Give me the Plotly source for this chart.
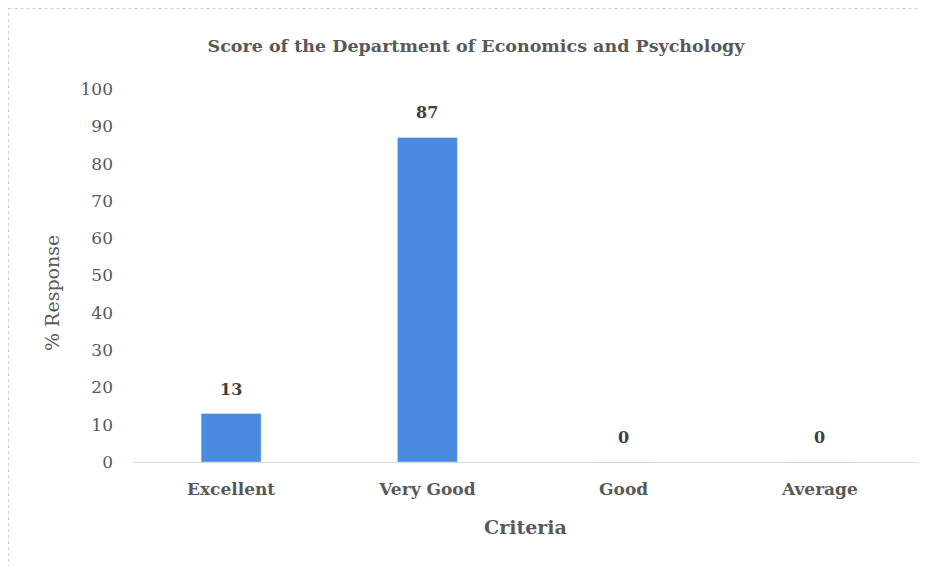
import plotly.graph_objects as go

categories = ["Excellent", "Very Good", "Good", "Average"]
values = [13, 87, 0, 0]
y_ticks = list(range(0, 101, 10))

font_family = "DejaVu Serif, Liberation Serif, serif"
gray = "#595959"

fig = go.Figure(go.Bar(
    x=categories, y=values,
    marker=dict(color="#4a8ae0"),
    width=0.306,
    cliponaxis=False,
))

for c, v in zip(categories, values):
    fig.add_annotation(x=c, y=v, xref="x", yref="y", text=f"<b>{v}</b>",
                       showarrow=False, yanchor="bottom", yshift=13,
                       font=dict(family=font_family, size=16, color="#404040"))

W, H = 785, 373
# y-axis title placed as rotated annotation (slightly below axis centre, as in reference)
fig.add_annotation(x=(44 - 125) / W, y=(454 - 285) / H, xref="paper", yref="paper",
                   text="% Response", textangle=-90, showarrow=False,
                   xanchor="center", yanchor="middle",
                   font=dict(family=font_family, size=19, color=gray))

fig.update_layout(
    width=928, height=566,
    paper_bgcolor="white", plot_bgcolor="white",
    margin=dict(l=125, r=18, t=81, b=112, autoexpand=False),
    title=dict(text="<b>Score of the Department of Economics and Psychology</b>",
               x=468 / 928, xanchor="center", y=1 - 38 / 566, yanchor="middle",
               font=dict(family=font_family, size=17.5, color=gray)),
    showlegend=False,
)
fig.update_yaxes(
    range=[0, 100], tickvals=y_ticks, showgrid=False, zeroline=False,
    showline=False, ticks="", automargin=False, ticklabelstandoff=19,
    tickfont=dict(family=font_family, size=17, color=gray),
)
fig.update_xaxes(
    showgrid=False, showline=True, linecolor="#d8d8d8", linewidth=1, ticks="",
    automargin=False, ticklabelstandoff=12,
    tickfont=dict(family=font_family, size=17, color=gray, weight="bold"),
    title=dict(text="<b>Criteria</b>", font=dict(family=font_family, size=19, color=gray),
               standoff=22),
)
# light dashed page border (left and top)
fig.add_shape(type="line", xref="paper", yref="paper",
              x0=(0.5 - 125) / W, x1=(0.5 - 125) / W, y0=-112 / H, y1=(454 - 0.5) / H,
              line=dict(color="#cfcfcf", width=1, dash="dot"))
fig.add_shape(type="line", xref="paper", yref="paper",
              x0=(0.5 - 125) / W, x1=(928 - 125) / W, y0=(454 - 0.5) / H, y1=(454 - 0.5) / H,
              line=dict(color="#cfcfcf", width=1, dash="dot"))

fig.write_html("out.html")
